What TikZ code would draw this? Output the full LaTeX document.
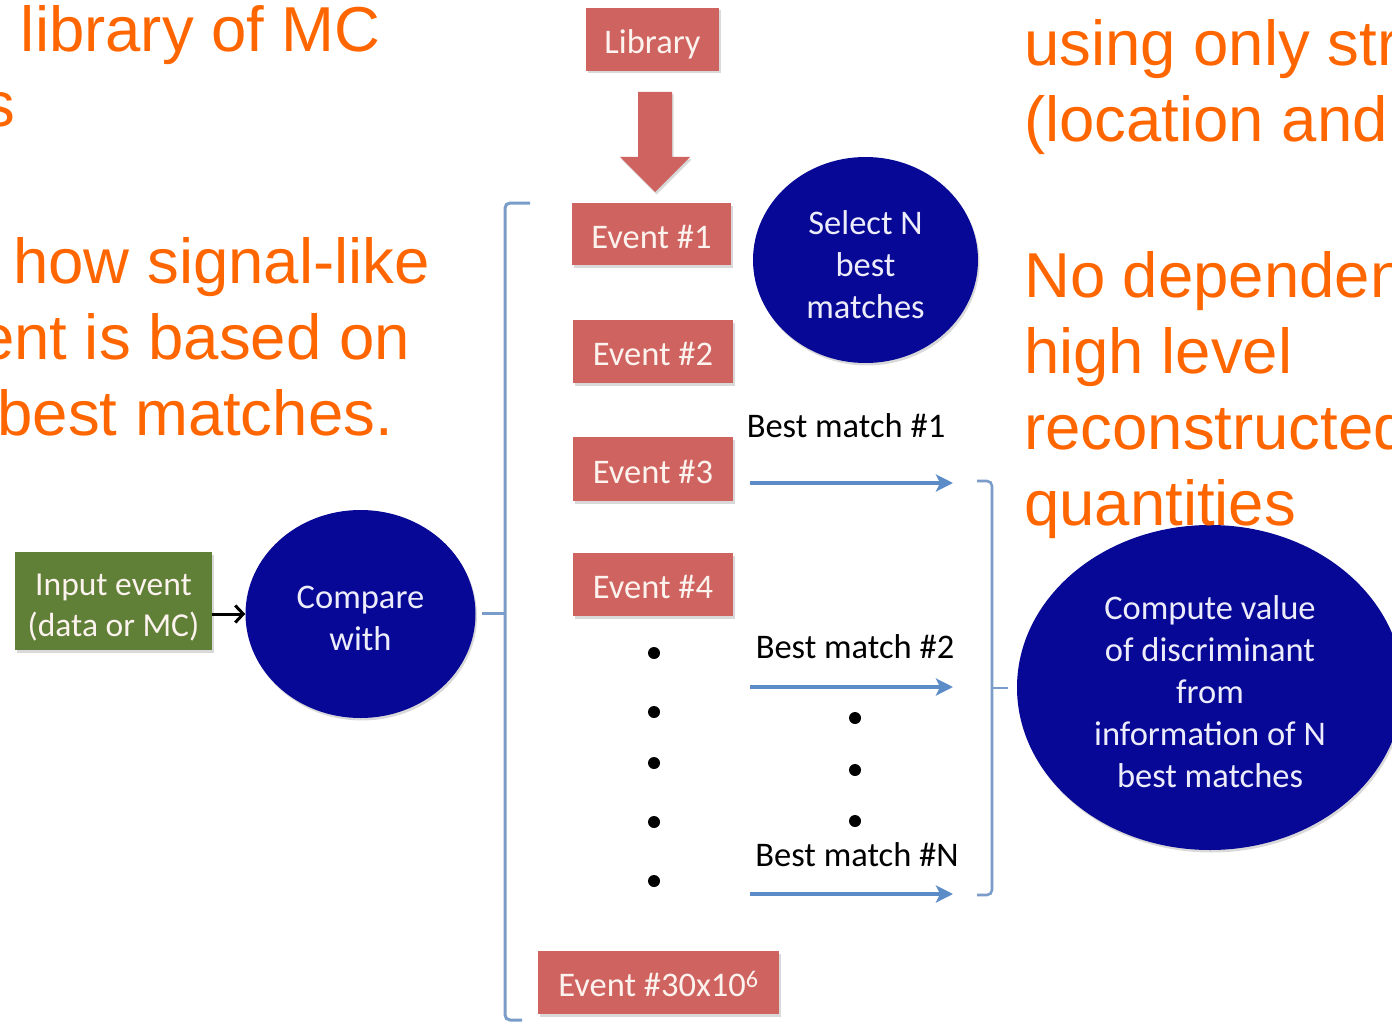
\documentclass[tikz,border=0pt]{standalone}
\usepackage{fontspec}
\setmainfont{Carlito}
\newfontfamily\slidefont{Liberation Sans}
\usetikzlibrary{arrows.meta,shadows,shapes.geometric}

\definecolor{evred}{RGB}{207,99,96}
\definecolor{inputgreen}{RGB}{96,128,56}
\definecolor{navyfill}{RGB}{8,8,150}
\definecolor{circtext}{RGB}{236,236,250}
\definecolor{boxtext}{RGB}{252,242,238}
\definecolor{flowblue}{RGB}{92,140,200}
\definecolor{brackblue}{RGB}{122,156,200}
\definecolor{slideorange}{RGB}{255,102,0}

\tikzset{
  softshadow/.style={drop shadow={opacity=0.3, shadow xshift=1.5pt, shadow yshift=-2.5pt}},
  labelfont/.style={font=\fontsize{34.5}{42}\selectfont},
  evbox/.style={rectangle, fill=evred, text=boxtext, inner sep=0pt,
    text height=28pt, text depth=0pt,
    minimum width=160pt, minimum height=63pt, labelfont, softshadow},
  bluecirc/.style={ellipse, fill=navyfill, inner sep=0pt, softshadow},
  circtxt/.style={text=circtext, align=center, inner sep=0pt, labelfont},
  inputbox/.style={rectangle, fill=inputgreen, inner sep=0pt,
    minimum width=197pt, minimum height=98pt, softshadow},
  inputtxt/.style={text=boxtext, align=center, inner sep=0pt,
    font=\fontsize{33.5}{41}\selectfont},
  matchlabel/.style={text=black, inner sep=0pt, labelfont},
  flowarrow/.style={draw=flowblue, line width=3.5pt,
    -{Stealth[length=17pt,width=17pt,inset=4pt]}},
  brack/.style={draw=brackblue, line width=3pt, rounded corners=5pt},
  dotn/.style={circle, fill=black, inner sep=0pt, minimum size=12pt},
  slidetext/.style={text=slideorange, inner sep=0pt,
    font=\slidefont\fontsize{63.5}{76}\selectfont},
}

\begin{document}
\begin{tikzpicture}[x=1pt, y=-1pt]
\useasboundingbox (0,0) rectangle (1392,1022);
\clip (0,0) rectangle (1392,1022);

% library and the block arrow feeding the event list
\node[evbox, minimum width=133pt] (lib) at (652.5,39.5) {Library};
\fill[evred, softshadow] (638,92) -- (672,92) -- (672,157) -- (690,157)
  -- (655,192) -- (620,157) -- (638,157) -- cycle;

% library events
\node[evbox, minimum width=159pt, minimum height=62pt] (ev1) at (651.5,234) {Event \#1};
\node[evbox] (ev2) at (653,351.5) {Event \#2};
\node[evbox, minimum height=64pt] (ev3) at (653,469) {Event \#3};
\node[evbox] (ev4) at (653,584.5) {Event \#4};
\node[evbox, minimum width=241pt] (evlast) at (658.5,982.5) {Event \#30x10\textsuperscript{6}};

\node[dotn] (ld1) at (654,653) {};
\node[dotn] (ld2) at (654,712) {};
\node[dotn] (ld3) at (654,763) {};
\node[dotn] (ld4) at (654,822) {};
\node[dotn] (ld5) at (654,881) {};

% input and comparison
\node[inputbox, label={[inputtxt, yshift=-7pt]center:Input event\\(data or MC)}]
  (input) at (113.5,601) {};
\node[bluecirc, minimum width=230pt, minimum height=208pt,
  label={[circtxt, yshift=-4pt]center:Compare\\with}] (cmp) at (360.5,614) {};
\draw[line width=3pt, -{Straight Barb[length=8pt,width=17pt]}] (input.east |- cmp.west) -- (cmp.west);

% bracket spanning the library
\coordinate (lbtop) at (530,203);
\coordinate (lbmid) at (505,613);
\coordinate (lbbot) at (522,1020);
\coordinate (lbtip) at (482,613);
\draw[brack] (lbtop) -- (505,203) -- (505,1020) -- (lbbot);
\draw[brack] (lbmid) -- (lbtip);

% selection
\node[bluecirc, minimum width=225pt, minimum height=206pt,
  label={[circtxt, yshift=-5pt]center:Select N\\best\\matches}] (sel) at (865.5,260) {};

% best matches
\node[matchlabel] (bm1) at (846,426) {Best match \#1};
\node[matchlabel] (bm2) at (855,647) {Best match \#2};
\node[matchlabel] (bmN) at (857,855) {Best match \#N};

\coordinate (m1s) at (750,483);  \coordinate (m1e) at (953,483);
\coordinate (m2s) at (750,687);  \coordinate (m2e) at (953,687);
\coordinate (mNs) at (750,894);  \coordinate (mNe) at (953,894);
\draw[flowarrow] (m1s) -- (m1e);
\draw[flowarrow] (m2s) -- (m2e);
\draw[flowarrow] (mNs) -- (mNe);

\node[dotn] (rd1) at (855,718) {};
\node[dotn] (rd2) at (855,770) {};
\node[dotn] (rd3) at (855,821) {};

% bracket gathering the matches
\coordinate (rbtop) at (977,481);
\coordinate (rbbot) at (977,895);
\coordinate (rbmid) at (992,688);
\coordinate (rbtip) at (1008,688);
\draw[brack, line width=2.6pt] (rbtop) -- (992,481) -- (992,895) -- (rbbot);
\draw[brack, line width=2.6pt] (rbmid) -- (rbtip);

% discriminant
\node[bluecirc, minimum width=386pt, minimum height=325pt,
  label={[circtxt, yshift=-4pt]center:Compute value\\of discriminant\\from\\information of N\\best matches}]
  (disc) at (1210,687.5) {};

% slide text, left column
\node[slidetext, anchor=base east] (tl1) at (381,52) {library of MC};
\node[slidetext, anchor=base east] (tl2) at (15,127) {s};
\node[slidetext, anchor=base east] (tl3) at (430,283) {how signal-like};
\node[slidetext, anchor=base east] (tl4) at (410,359) {ent is based on};
\node[slidetext, anchor=base east] (tl5) at (393,435) {best matches.};

% slide text, right column
\node[slidetext, anchor=base west] (tr1) at (1024,66) {using only str};
\node[slidetext, anchor=base west] (tr2) at (1024,142) {(location and};
\node[slidetext, anchor=base west] (tr3) at (1024,297) {No dependen};
\node[slidetext, anchor=base west] (tr4) at (1024,373) {high level};
\node[slidetext, anchor=base west] (tr5) at (1024,449) {reconstructed};
\node[slidetext, anchor=base west] (tr6) at (1024,525) {quantities};
\end{tikzpicture}
\end{document}
